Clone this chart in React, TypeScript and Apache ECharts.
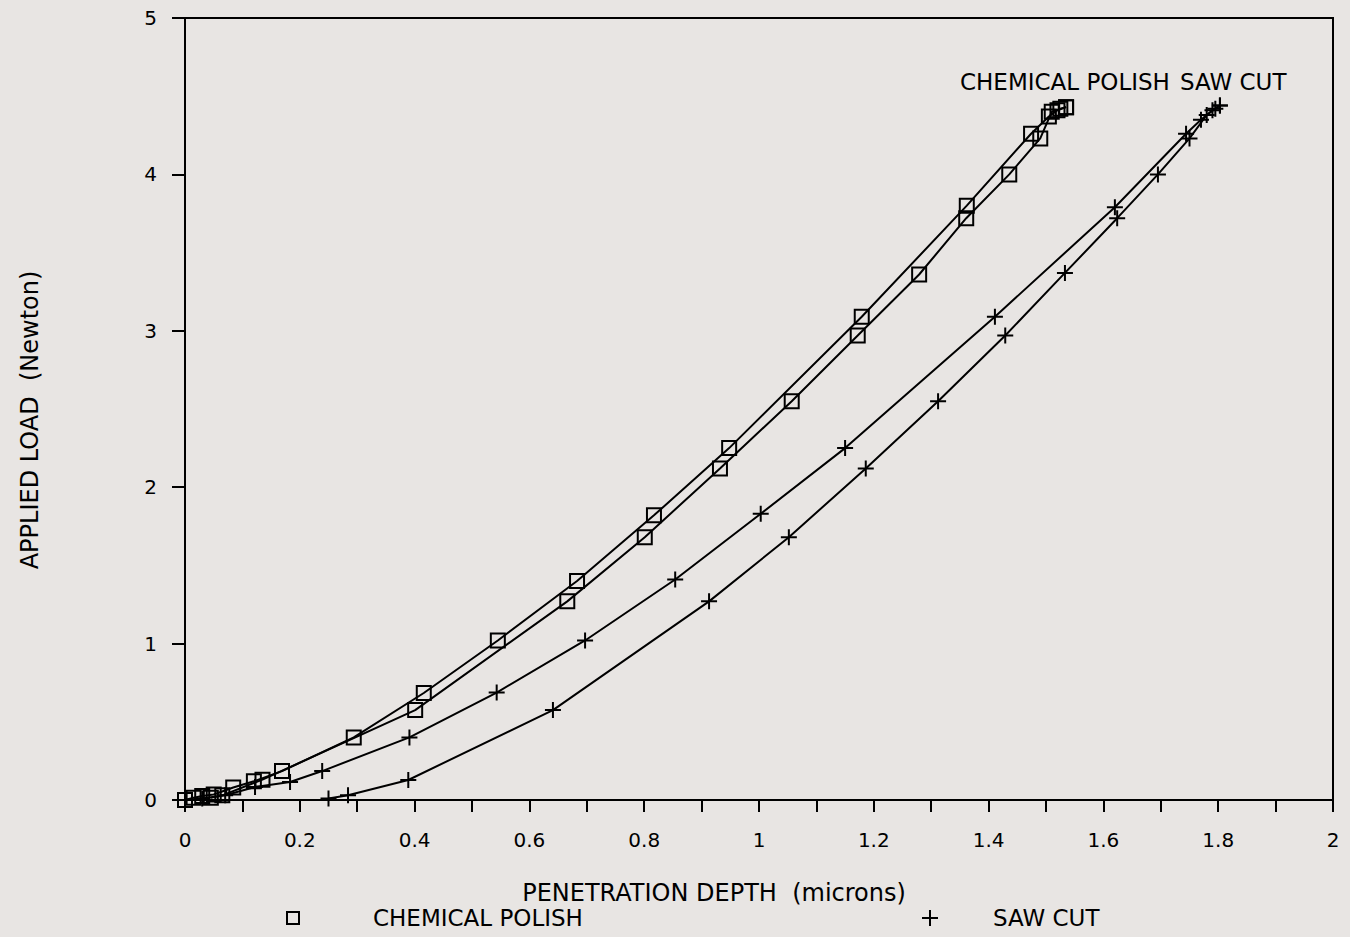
import React, { useEffect, useRef } from "react";
import * as echarts from "echarts";

// Axis ranges (microns / Newton)
const depthMin = 0;
const depthMax = 2;
const depthStep = 0.2;
const loadMin = 0;
const loadMax = 5;
const loadStep = 1;

// Chemically polished surface: loading branch
const chemLoadDepth = [0, 0.015, 0.03, 0.05, 0.084, 0.12, 0.169, 0.294, 0.416, 0.545, 0.683, 0.817, 0.948, 1.179, 1.362, 1.474, 1.505, 1.52, 1.535];
const chemLoadForce = [0, 0.015, 0.025, 0.035, 0.08, 0.12, 0.185, 0.40, 0.684, 1.02, 1.40, 1.82, 2.25, 3.09, 3.80, 4.26, 4.37, 4.41, 4.43];

// Chemically polished surface: unloading branch
const chemUnloadDepth = [1.535, 1.525, 1.51, 1.49, 1.436, 1.361, 1.279, 1.172, 1.057, 0.932, 0.801, 0.666, 0.401, 0.135, 0.065, 0.045];
const chemUnloadForce = [4.43, 4.42, 4.40, 4.23, 4.00, 3.72, 3.36, 2.97, 2.55, 2.12, 1.68, 1.27, 0.575, 0.13, 0.03, 0.015];

// Saw-cut surface: loading branch
const sawLoadDepth = [0, 0.03, 0.07, 0.122, 0.183, 0.239, 0.391, 0.543, 0.697, 0.854, 1.003, 1.150, 1.411, 1.620, 1.744, 1.77, 1.79, 1.803];
const sawLoadForce = [0, 0.01, 0.03, 0.083, 0.115, 0.185, 0.40, 0.687, 1.02, 1.41, 1.83, 2.25, 3.09, 3.79, 4.26, 4.35, 4.41, 4.44];

// Saw-cut surface: unloading branch
const sawUnloadDepth = [1.803, 1.795, 1.78, 1.75, 1.695, 1.624, 1.533, 1.429, 1.312, 1.186, 1.052, 0.913, 0.641, 0.389, 0.284, 0.25];
const sawUnloadForce = [4.44, 4.42, 4.38, 4.23, 4.00, 3.72, 3.37, 2.97, 2.55, 2.12, 1.68, 1.27, 0.575, 0.128, 0.03, 0.01];

const FONT = "'DejaVu Sans', 'Liberation Sans', sans-serif";
const BG = "#e8e5e3";
const INK = "#000";
const TITLE_SIZE = 23;

const squareSymbol = "rect";
const plusSymbol = "path://M5 0L5 10M0 5L10 5";

function pairs(xs: number[], ys: number[]): number[][] {
  return xs.map((x, i) => [x, ys[i]]);
}

function curve(name: string, xs: number[], ys: number[], symbol: string, size: number) {
  return {
    type: "line",
    name,
    data: pairs(xs, ys),
    symbol,
    symbolSize: size,
    showAllSymbol: true,
    smooth: false,
    lineStyle: { color: INK, width: 2 },
    itemStyle: { color: "rgba(0,0,0,0)", borderColor: INK, borderWidth: 2 },
    emphasis: { disabled: true },
  };
}

function label(text: string, x: number, y: number, align: string, size = TITLE_SIZE, rotation = 0) {
  return {
    type: "text",
    x,
    y,
    rotation,
    style: {
      text,
      fontFamily: FONT,
      fontSize: size,
      fill: INK,
      align,
      verticalAlign: "middle",
    },
  };
}

export default function App() {
  const ref = useRef<HTMLDivElement>(null);

  useEffect(() => {
    if (!ref.current) return;
    const chart = echarts.init(ref.current, undefined, { renderer: "svg" });

    const option: any = {
      animation: false,
      backgroundColor: BG,
      grid: {
        left: 185,
        right: 17,
        top: 18,
        bottom: 137,
        show: true,
        borderColor: INK,
        borderWidth: 2,
        containLabel: false,
        outerBoundsMode: "none",
      },
      xAxis: {
        type: "value",
        min: depthMin,
        max: depthMax,
        interval: depthStep,
        axisLine: { show: true, lineStyle: { color: INK, width: 2 } },
        axisTick: { show: true, length: 12, lineStyle: { color: INK, width: 2 } },
        minorTick: { show: true, splitNumber: 2, length: 12, lineStyle: { color: INK, width: 2 } },
        splitLine: { show: false },
        axisLabel: {
          margin: 30,
          color: INK,
          fontFamily: FONT,
          fontSize: 20,
          formatter: (v: number) => String(Math.round(v * 10) / 10),
        },
      },
      yAxis: {
        type: "value",
        min: loadMin,
        max: loadMax,
        interval: loadStep,
        axisLine: { show: true, lineStyle: { color: INK, width: 2 } },
        axisTick: { show: true, length: 13, lineStyle: { color: INK, width: 2 } },
        splitLine: { show: false },
        axisLabel: {
          margin: 28,
          color: INK,
          fontFamily: FONT,
          fontSize: 20,
        },
      },
      series: [
        curve("CHEMICAL POLISH", chemLoadDepth, chemLoadForce, squareSymbol, 14),
        curve("CHEMICAL POLISH ", chemUnloadDepth, chemUnloadForce, squareSymbol, 14),
        curve("SAW CUT", sawLoadDepth, sawLoadForce, plusSymbol, 16),
        curve("SAW CUT ", sawUnloadDepth, sawUnloadForce, plusSymbol, 16),
      ],
      graphic: [
        label("APPLIED LOAD  (Newton)", 30, 420, "center", 24, Math.PI / 2),
        label("PENETRATION DEPTH  (microns)", 714, 893, "center", 24),
        label("CHEMICAL POLISH", 960, 82, "left"),
        label("SAW CUT", 1180, 82, "left"),
        // key row
        {
          type: "rect",
          shape: { x: 287, y: 912, width: 12, height: 12 },
          style: { fill: "none", stroke: INK, lineWidth: 2 },
        },
        label("CHEMICAL POLISH", 373, 918, "left"),
        {
          type: "line",
          shape: { x1: 930, y1: 910, x2: 930, y2: 926 },
          style: { stroke: INK, lineWidth: 2 },
        },
        {
          type: "line",
          shape: { x1: 922, y1: 918, x2: 938, y2: 918 },
          style: { stroke: INK, lineWidth: 2 },
        },
        label("SAW CUT", 993, 918, "left"),
      ],
    };

    chart.setOption(option);
    return () => {
      chart.dispose();
    };
  }, []);

  return (
    <div
      ref={ref}
      style={{ position: "fixed", left: 0, top: 0, width: 1350, height: 937, background: BG }}
    />
  );
}
